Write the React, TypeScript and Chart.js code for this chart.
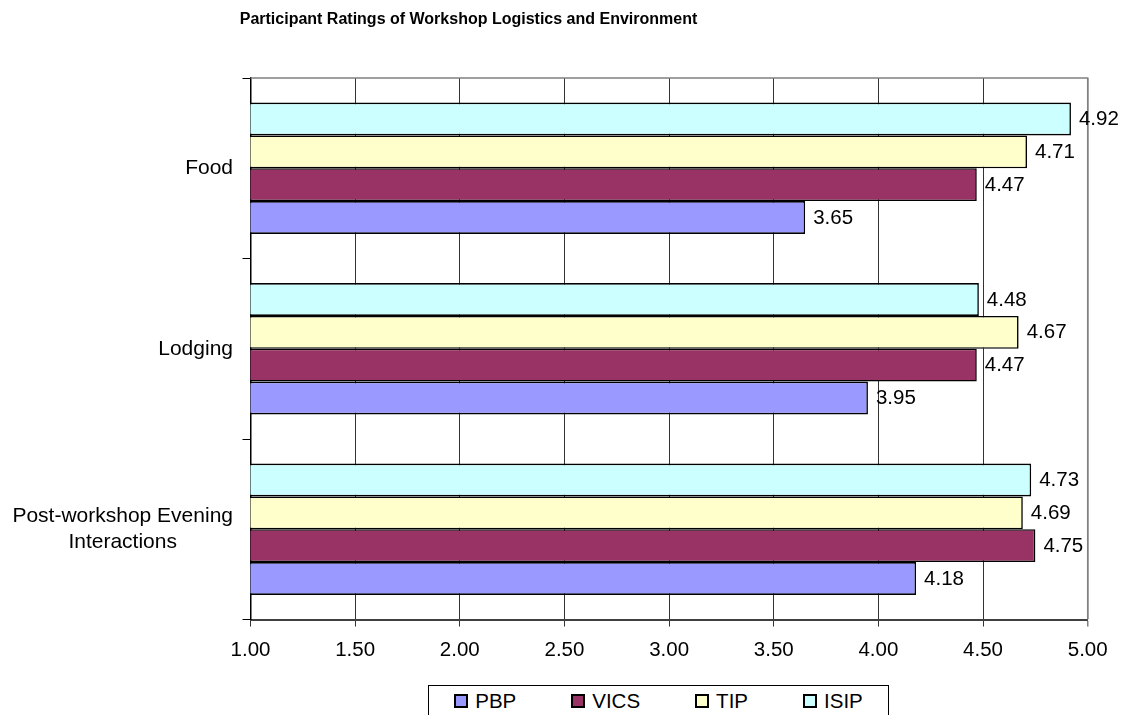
import React, { useEffect, useRef } from "react";
import { Chart, registerables } from "chart.js";

Chart.register(...registerables);

const titleText = "Participant Ratings of Workshop Logistics and Environment";
const categories: (string | string[])[] = ["Food", "Lodging", ["Post-workshop Evening", "Interactions"]];
const seriesNames = ["PBP", "VICS", "TIP", "ISIP"];
const pbpValues = [3.65, 3.95, 4.18];
const vicsValues = [4.47, 4.47, 4.75];
const tipValues = [4.71, 4.67, 4.69];
const isipValues = [4.92, 4.48, 4.73];
const seriesColors = ["#9999FF", "#993366", "#FFFFCC", "#CCFFFF"];
const xMin = 1;
const xMax = 5;
const xStep = 0.5;

const FONT = "'Liberation Sans', Arial, sans-serif";
const FS = 20.5;
const CAT_FS = 21;

const W = 1123;
const H = 715;

export default function App() {
  const ref = useRef<HTMLCanvasElement | null>(null);

  useEffect(() => {
    if (!ref.current) return;
    const values = [pbpValues, vicsValues, tipValues, isipValues];
    // top-to-bottom inside each group: ISIP, TIP, VICS, PBP
    const order = [3, 2, 1, 0];
    const datasets = order.map((i) => ({
      label: seriesNames[i],
      data: values[i],
      backgroundColor: seriesColors[i],
      borderColor: "#000000",
      borderWidth: 1.6,
      borderSkipped: false as const,
      categoryPercentage: 0.7275,
      barPercentage: 1.0,
    }));

    const yLabelPlugin = {
      id: "yLabels",
      afterDraw(chart: any) {
        const ctx = chart.ctx;
        const ys = chart.scales.y;
        const area = chart.chartArea;
        ctx.save();
        ctx.font = `${CAT_FS}px ${FONT}`;
        ctx.fillStyle = "#000";
        ctx.textAlign = "center";
        ctx.textBaseline = "middle";
        const lh = 26.5;
        categories.forEach((lab, i) => {
          const lines = Array.isArray(lab) ? lab : [lab];
          const cy = ys.getPixelForValue(i);
          const w = Math.max(...lines.map((l) => ctx.measureText(l).width));
          const right = area.left - 17.5;
          const cx = right - w / 2;
          lines.forEach((l, k) => {
            ctx.fillText(l, cx, cy - ((lines.length - 1) * lh) / 2 + k * lh);
          });
        });
        ctx.restore();
      },
    };

    const framePlugin = {
      id: "frame",
      afterDatasetsDraw(chart: any) {
        const ctx = chart.ctx;
        const a = chart.chartArea;
        ctx.save();
        ctx.strokeStyle = "#808080";
        ctx.lineWidth = 1.5;
        ctx.beginPath();
        ctx.moveTo(a.left, a.top);
        ctx.lineTo(a.right, a.top);
        ctx.lineTo(a.right, a.bottom);
        ctx.stroke();
        ctx.restore();
      },
    };

    const valueLabelPlugin = {
      id: "valueLabels",
      afterDatasetsDraw(chart: any) {
        const ctx = chart.ctx;
        ctx.save();
        ctx.font = `${FS}px ${FONT}`;
        ctx.fillStyle = "#000";
        ctx.textAlign = "left";
        ctx.textBaseline = "middle";
        chart.data.datasets.forEach((ds: any, di: number) => {
          const meta = chart.getDatasetMeta(di);
          meta.data.forEach((el: any, i: number) => {
            const p = el.getProps(["x", "y"], true);
            ctx.fillText(Number(ds.data[i]).toFixed(2), p.x + 8, p.y + 0.5);
          });
        });
        ctx.restore();
      },
    };

    const chart = new Chart(ref.current, {
      type: "bar",
      data: { labels: categories as any, datasets },
      options: {
        indexAxis: "y",
        animation: false,
        responsive: false,
        maintainAspectRatio: false,
        devicePixelRatio: 1,
        layout: { padding: { top: 78, right: 35.3, left: 0, bottom: 0 } },
        plugins: {
          legend: { display: false },
          title: { display: false },
          tooltip: { enabled: false },
        },
        scales: {
          x: {
            type: "linear",
            min: xMin,
            max: xMax,
            afterFit(scale: any) {
              scale.height = H - 619.5;
            },
            ticks: {
              stepSize: xStep,
              font: { family: FONT, size: FS },
              color: "#000",
              padding: 12,
              maxRotation: 0,
              callback: (v: any) => Number(v).toFixed(2),
            },
            grid: {
              drawOnChartArea: true,
              drawTicks: true,
              tickLength: 7,
              color: (c: any) => (c.index === 8 ? "#808080" : "#333333"),
              lineWidth: (c: any) => (c.index === 8 ? 1.5 : 1),
            },
            border: { display: true, color: "#404040", width: 2 },
          },
          y: {
            type: "category",
            afterFit(scale: any) {
              scale.width = 250.5;
            },
            ticks: { display: false },
            grid: {
              offset: true,
              drawOnChartArea: false,
              drawTicks: true,
              tickLength: 8,
              color: "#000",
              lineWidth: 1,
            },
            border: { display: true, color: "#000", width: 1.5 },
          },
        },
      },
      plugins: [yLabelPlugin, framePlugin, valueLabelPlugin],
    });
    return () => chart.destroy();
  }, []);

  const legendOrder = [0, 1, 2, 3];

  return (
    <div
      style={{
        position: "fixed",
        left: 0,
        top: 0,
        width: W,
        height: H,
        overflow: "hidden",
        background: "#fff",
        fontFamily: FONT,
      }}
    >
      <canvas ref={ref} width={W} height={H} style={{ position: "absolute", left: 0, top: 0, width: W, height: H }} />
      <div
        style={{
          position: "absolute",
          left: 0,
          top: 10,
          width: 937,
          textAlign: "center",
          fontWeight: "bold",
          fontSize: 16,
          lineHeight: "18px",
          color: "#000",
          whiteSpace: "nowrap",
        }}
      >
        {titleText}
      </div>
      <div
        style={{
          position: "absolute",
          left: 428,
          top: 685,
          width: 461,
          height: 40,
          boxSizing: "border-box",
          border: "1px solid #000",
          paddingTop: 3,
          display: "flex",
          justifyContent: "center",
          alignItems: "flex-start",
          gap: 55,
          background: "#fff",
        }}
      >
        {legendOrder.map((i) => (
          <div key={seriesNames[i]} style={{ display: "flex", alignItems: "center", height: 24 }}>
            <span
              style={{
                display: "inline-block",
                width: 14,
                height: 14,
                boxSizing: "border-box",
                border: "2px solid #000",
                background: seriesColors[i],
                marginRight: 7,
              }}
            />
            <span style={{ fontSize: FS, lineHeight: "24px", color: "#000" }}>{seriesNames[i]}</span>
          </div>
        ))}
      </div>
    </div>
  );
}
